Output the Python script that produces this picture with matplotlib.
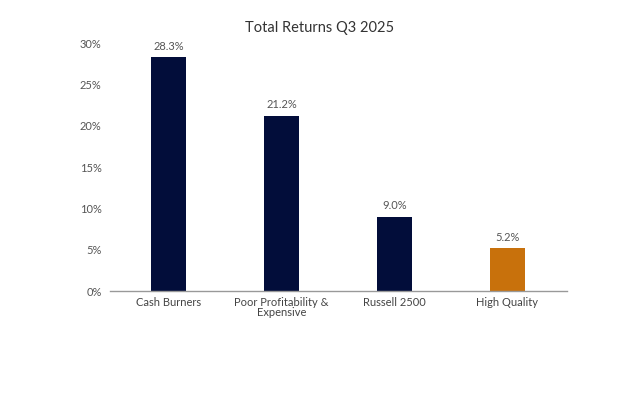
import matplotlib.pyplot as plt
from matplotlib.ticker import FuncFormatter

categories = ['Cash Burners', 'Poor Profitability &\nExpensive', 'Russell 2500', 'High Quality']
returns = [28.3, 21.2, 9.0, 5.2]
colours = ['#020D3A', '#020D3A', '#020D3A', '#C8710C']

plt.rcParams['font.family'] = ['Lato', 'DejaVu Sans']

fig = plt.figure(figsize=(6.4, 3.93), dpi=100)
ax = fig.add_axes([0.172, 0.259, 0.714, 0.631])

x = range(len(categories))
ax.bar(x, returns, width=0.31, color=colours)

for xi, val in zip(x, returns):
    ax.annotate(f'{val:.1f}%', xy=(xi, val), xytext=(0, 4), textcoords='offset points',
                ha='center', va='bottom', fontsize=8, color='#555555', annotation_clip=False)

ax.set_xlim(-0.52, 3.53)
ax.set_ylim(0, 30)
ax.set_yticks(range(0, 31, 5))
ax.yaxis.set_major_formatter(FuncFormatter(lambda v, p: f'{v:.0f}%'))
ax.set_xticks(list(x))
ax.set_xticklabels(categories, fontsize=8, color='#444444', linespacing=0.95)
ax.tick_params(axis='y', labelsize=8, labelcolor='#555555', length=0, pad=6)
ax.tick_params(axis='x', length=0, pad=4)

for side in ['top', 'right', 'left']:
    ax.spines[side].set_visible(False)
ax.spines['bottom'].set_color('#999999')
ax.spines['bottom'].set_linewidth(1)

fig.text(0.5, 0.93, 'Total Returns Q3 2025', ha='center', va='center', fontsize=10.5, color='#333333')

fig.savefig('out.png', dpi=100, facecolor='white')
